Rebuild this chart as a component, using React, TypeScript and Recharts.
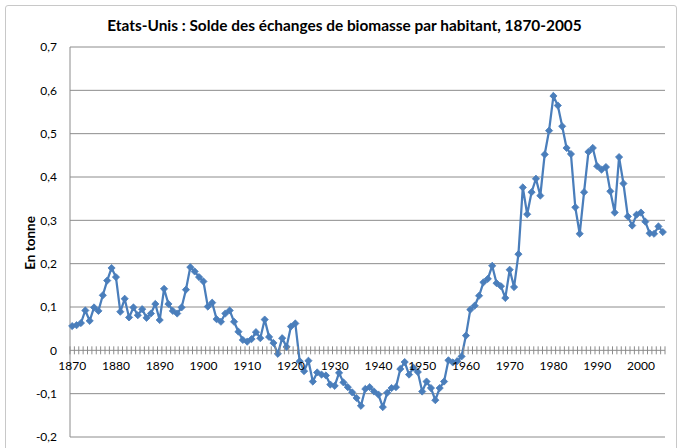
import React from 'react';
import { LineChart, Line, XAxis, YAxis, CartesianGrid } from 'recharts';

// Solde des échanges de biomasse par habitant (tonnes), Etats-Unis, une valeur par an
const START_YEAR = 1870;
const SOLDE = [
    0.056, 0.058, 0.063, 0.092, 0.068, 0.099, 0.091, 0.127, 0.161, 0.190,
    0.169, 0.089, 0.119, 0.076, 0.099, 0.081, 0.095, 0.075, 0.085, 0.107,
    0.070, 0.142, 0.107, 0.091, 0.085, 0.099, 0.140, 0.192, 0.182, 0.169,
    0.159, 0.101, 0.110, 0.072, 0.066, 0.085, 0.092, 0.066, 0.043, 0.024,
    0.020, 0.026, 0.042, 0.028, 0.071, 0.031, 0.017, -0.008, 0.028, 0.008,
    0.055, 0.062, -0.025, -0.048, -0.024, -0.072, -0.051, -0.056, -0.058, -0.079,
    -0.082, -0.052, -0.074, -0.085, -0.097, -0.110, -0.128, -0.089, -0.085, -0.095,
    -0.102, -0.131, -0.098, -0.087, -0.085, -0.043, -0.027, -0.056, -0.040, -0.050,
    -0.095, -0.072, -0.087, -0.115, -0.087, -0.072, -0.023, -0.028, -0.025, -0.014,
    0.034, 0.094, 0.103, 0.126, 0.157, 0.165, 0.195, 0.155, 0.148, 0.121,
    0.186, 0.146, 0.222, 0.376, 0.314, 0.365, 0.396, 0.357, 0.452, 0.507,
    0.587, 0.565, 0.517, 0.467, 0.453, 0.330, 0.269, 0.365, 0.458, 0.467,
    0.425, 0.417, 0.423, 0.367, 0.318, 0.446, 0.385, 0.309, 0.288, 0.313,
    0.318, 0.297, 0.270, 0.269, 0.286, 0.273,
];
const DECADE_LABELS = [1870, 1880, 1890, 1900, 1910, 1920, 1930, 1940, 1950, 1960, 1970, 1980, 1990, 2000];
const Y_TICKS = [-0.2, -0.1, 0, 0.1, 0.2, 0.3, 0.4, 0.5, 0.6, 0.7];

const data = SOLDE.map((v, i) => ({ year: START_YEAR + i, solde: v }));
const END_YEAR = START_YEAR + SOLDE.length - 1;

// small tick marks between categories, like Excel's category axis
const boundaries: number[] = [];
for (let y = START_YEAR - 0.5; y <= END_YEAR + 0.5; y += 1) boundaries.push(y);
const X_TICKS = [...boundaries, ...DECADE_LABELS].sort((a, b) => a - b);

const W = 679;
const H = 448;
const X_AXIS_H = 2;
const MARGIN = { top: 47, right: 14, bottom: 9, left: 20 };
const Y_AXIS_W = 50;
const Y_MIN = -0.2;
const Y_MAX = 0.7;
const PLOT_H = H - MARGIN.top - MARGIN.bottom - X_AXIS_H;
// the category axis crosses at y = 0
const ZERO_Y = MARGIN.top + PLOT_H * (Y_MAX / (Y_MAX - Y_MIN));

const BLUE = '#4A7EBB';
const GRID = '#8c8c8c';
const FONT = 'Lato, "Open Sans", sans-serif';

const fmtY = (v: number) => (v === 0 ? '0' : v.toFixed(1).replace('.', ','));

const renderXTick = (props: any) => {
    const { x, payload, index } = props;
    const v = payload.value as number;
    if (!Number.isInteger(v)) {
        return <line key={`t-${index}`} x1={x} x2={x} y1={ZERO_Y - 4} y2={ZERO_Y + 4} stroke={GRID} strokeWidth={1} />;
    }
    return (
        <text key={`t-${index}`} x={x} y={ZERO_Y + 20} textAnchor="middle" fontSize={12} fill="#000" fontFamily={FONT}>
            {v}
        </text>
    );
};

const Diamond = (props: any) => {
    const { cx, cy, index } = props;
    const r = 3.6;
    return (
        <polygon
            key={`d-${index}`}
            points={`${cx},${cy - r} ${cx + r},${cy} ${cx},${cy + r} ${cx - r},${cy}`}
            fill={BLUE}
            stroke={BLUE}
            strokeWidth={0.8}
        />
    );
};

export default function App() {
    return (
        <div style={{ position: 'absolute', left: 0, top: 0, width: W, height: H, background: '#fff', overflow: 'hidden', fontFamily: FONT }}>
            <div style={{ position: 'absolute', left: 5, top: 5, width: 670, height: 470, border: '1px solid #c8c8c8', borderRadius: 3 }} />
            <div style={{ position: 'absolute', left: 10, width: 669, top: 16, textAlign: 'center', fontWeight: 700, fontSize: 15.4, color: '#000' }}>
                Etats-Unis : Solde des échanges de biomasse par habitant, 1870-2005
            </div>
            <div style={{ position: 'absolute', left: 30, top: 243, transform: 'translate(-50%, -50%) rotate(-90deg)', whiteSpace: 'nowrap', fontWeight: 700, fontSize: 13.5, color: '#000' }}>
                En tonne
            </div>
            <div style={{ position: 'absolute', left: 0, top: 0 }}>
                <LineChart width={W} height={H} data={data} margin={MARGIN}>
                    <CartesianGrid vertical={false} stroke={GRID} strokeWidth={1} />
                    <XAxis
                        dataKey="year"
                        type="number"
                        domain={[START_YEAR - 0.5, END_YEAR + 0.5]}
                        ticks={X_TICKS}
                        interval={0}
                        height={X_AXIS_H}
                        axisLine={false}
                        tickLine={false}
                        tick={renderXTick}
                    />
                    <YAxis
                        width={Y_AXIS_W}
                        domain={[Y_MIN, Y_MAX]}
                        ticks={Y_TICKS}
                        interval={0}
                        tickFormatter={fmtY}
                        axisLine={{ stroke: GRID }}
                        tickLine={false}
                        tickMargin={7}
                        tick={{ fontSize: 12, fill: '#000', fontFamily: FONT }}
                    />
                    <Line
                        type="linear"
                        dataKey="solde"
                        stroke={BLUE}
                        strokeWidth={2.25}
                        dot={Diamond}
                        activeDot={false}
                        isAnimationActive={false}
                    />
                </LineChart>
            </div>
        </div>
    );
}
